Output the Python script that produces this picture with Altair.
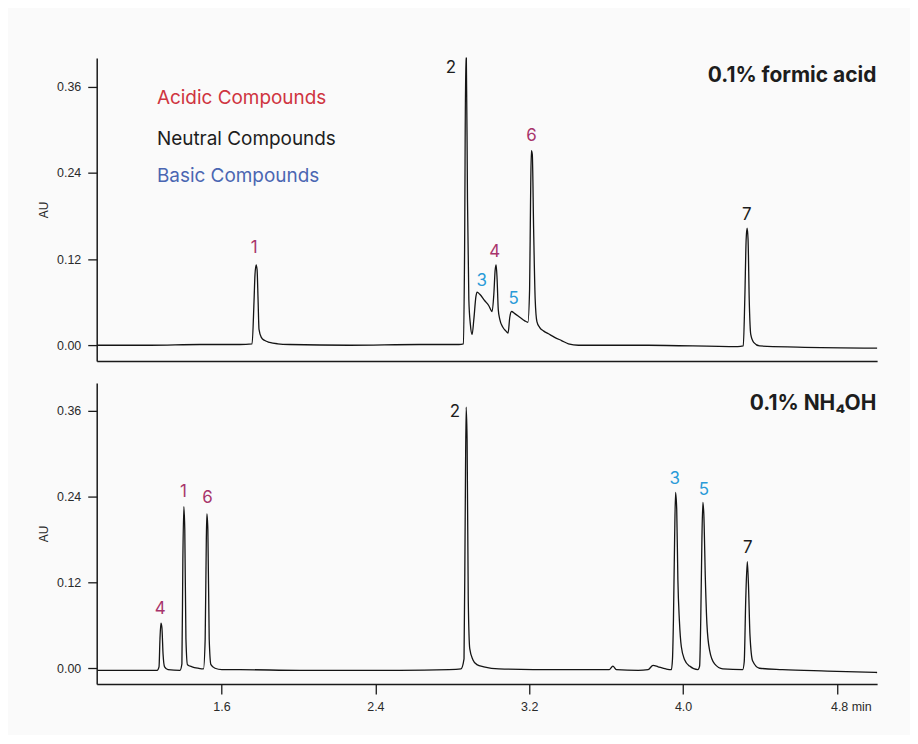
import altair as alt
import pandas as pd

# ---- Chromatogram traces (time in min, absorbance in AU) ----
top_time = [0.955, 1.229, 1.488, 1.695, 1.759, 1.769, 1.774, 1.780, 1.785, 1.790,
            1.795, 1.807, 1.825, 1.850, 1.892, 1.954, 2.265, 2.627, 2.834, 2.858,
            2.864, 2.870, 2.873, 2.879, 2.886, 2.894, 2.903, 2.912, 2.923, 2.929,
            2.943, 2.969, 2.990, 3.007, 3.016, 3.023, 3.028, 3.033, 3.039, 3.047,
            3.063, 3.078, 3.090, 3.099, 3.108, 3.125, 3.151, 3.177, 3.193, 3.202,
            3.207, 3.211, 3.216, 3.223, 3.231, 3.240, 3.254, 3.274, 3.300, 3.332,
            3.368, 3.404, 3.456, 3.818, 4.284, 4.313, 4.321, 4.328, 4.333, 4.338,
            4.344, 4.352, 4.367, 4.398, 4.595, 5.009]
top_au = [0.000, 0.000, 0.001, 0.001, 0.002, 0.061, 0.098, 0.112, 0.105, 0.064,
          0.022, 0.011, 0.0065, 0.004, 0.002, 0.001, 0.000, 0.001, 0.001, 0.002,
          0.133, 0.400, 0.400, 0.203, 0.064, 0.029, 0.015, 0.036, 0.068, 0.074,
          0.071, 0.062, 0.055, 0.047, 0.071, 0.105, 0.112, 0.092, 0.050, 0.036,
          0.025, 0.020, 0.017, 0.039, 0.047, 0.044, 0.039, 0.034, 0.032, 0.078,
          0.203, 0.271, 0.266, 0.161, 0.064, 0.033, 0.025, 0.020, 0.016, 0.011,
          0.0065, 0.002, 0.000, 0.000, -0.002, -0.001, 0.064, 0.147, 0.163, 0.147,
          0.064, 0.015, 0.004, -0.001, -0.0025, -0.004]

bottom_time = [0.955, 1.177, 1.265, 1.275, 1.280, 1.285, 1.290, 1.296, 1.304, 1.322,
               1.384, 1.394, 1.399, 1.404, 1.409, 1.415, 1.423, 1.447, 1.478, 1.506,
               1.515, 1.521, 1.524, 1.529, 1.536, 1.545, 1.566, 1.602, 1.695, 2.006,
               2.524, 2.783, 2.845, 2.861, 2.867, 2.872, 2.877, 2.883, 2.891, 2.907,
               2.928, 2.964, 3.042, 3.352, 3.559, 3.616, 3.635, 3.653, 3.767, 3.818,
               3.844, 3.870, 3.911, 3.939, 3.945, 3.950, 3.956, 3.961, 3.967, 3.973,
               3.981, 3.991, 4.008, 4.034, 4.077, 4.086, 4.092, 4.098, 4.103, 4.108,
               4.116, 4.124, 4.138, 4.164, 4.207, 4.310, 4.318, 4.326, 4.334, 4.340,
               4.348, 4.362, 4.397, 4.517, 4.750, 5.009]
bottom_au = [-0.003, -0.003, -0.003, 0.002, 0.041, 0.063, 0.057, 0.020, 0.002, -0.002,
             -0.003, 0.006, 0.152, 0.226, 0.194, 0.041, 0.005, 0.002, 0.000, -0.001,
             0.041, 0.180, 0.216, 0.194, 0.041, 0.005, 0.000, -0.002, -0.002, -0.003,
             -0.003, -0.002, -0.001, 0.013, 0.208, 0.365, 0.319, 0.097, 0.027, 0.012,
             0.005, 0.002, -0.001, -0.002, -0.002, -0.002, 0.003, -0.002, -0.003, -0.002,
             0.004, 0.002, -0.001, -0.002, 0.013, 0.069, 0.180, 0.246, 0.222, 0.124,
             0.066, 0.030, 0.012, 0.003, -0.002, 0.003, 0.069, 0.180, 0.232, 0.215,
             0.124, 0.062, 0.025, 0.006, -0.001, -0.002, 0.009, 0.097, 0.149, 0.117,
             0.046, 0.010, 0.000, -0.002, -0.004, -0.006]

# ---- Peak labels ----
top_peak_text = ["1", "2", "3", "4", "5", "6", "7"]
top_peak_time = [1.770, 2.793, 2.953, 3.021, 3.119, 3.212, 4.331]
top_peak_au = [0.135, 0.386, 0.090, 0.130, 0.065, 0.291, 0.182]
top_peak_class = ["acidic", "neutral", "basic", "acidic", "basic", "acidic", "neutral"]

bottom_peak_text = ["4", "1", "6", "2", "3", "5", "7"]
bottom_peak_time = [1.281, 1.402, 1.527, 2.814, 3.957, 4.108, 4.336]
bottom_peak_au = [0.083, 0.246, 0.238, 0.358, 0.265, 0.249, 0.168]
bottom_peak_class = ["acidic", "acidic", "acidic", "neutral", "basic", "basic", "neutral"]

# ---- Legend-like annotation and panel titles ----
legend_text = ["Acidic Compounds", "Neutral Compounds", "Basic Compounds"]
legend_time = [1.264, 1.264, 1.264]
legend_au = [0.344, 0.287, 0.236]
legend_class = ["acidic legend", "neutral", "basic legend"]

top_title = ["0.1% formic acid"]
bottom_title = ["0.1% NH\u2084OH"]
title_time = [5.005]
top_title_au = [0.375]
bottom_title_au = [0.369]

x_ticks = [1.6, 2.4, 3.2, 4.0, 4.8]
y_ticks = [0.0, 0.12, 0.24, 0.36]

class_domain = ["acidic", "neutral", "basic", "acidic legend", "basic legend"]
class_range = ["#a8346b", "#1d1d1d", "#2a9bd8", "#cf3440", "#4a66b2"]

X_DOMAIN = [0.951, 5.009]
AXIS_FONT = "Liberation Sans"
TEXT_FONT = "Inter"
W = 783

y_axis = alt.Axis(values=y_ticks, format=".2f", title="AU", grid=False,
                  tickSize=9, labelPadding=7, titlePadding=6,
                  labelFont=AXIS_FONT, labelFontSize=12.5, labelColor="#2a2a2a",
                  titleFont=AXIS_FONT, titleFontSize=12, titleFontWeight="normal",
                  titleColor="#2a2a2a", domainColor="#1a1a1a", tickColor="#1a1a1a",
                  domainWidth=1.5, tickWidth=1.3)

top_x_axis = alt.Axis(title=None, labels=False, ticks=False, grid=False,
                      domainColor="#1a1a1a", domainWidth=1.5)

bottom_x_axis = alt.Axis(values=x_ticks, format=".1f", title=None, grid=False,
                         labelExpr="datum.value > 4.7 ? '4.8 min' : datum.label",
                         labelOffset={"condition": {"test": "datum.value > 4.7", "value": 14}, "value": 0},
                         tickSize=10, labelPadding=7,
                         labelFont=AXIS_FONT, labelFontSize=12.5, labelColor="#2a2a2a",
                         domainColor="#1a1a1a", tickColor="#1a1a1a",
                         domainWidth=1.5, tickWidth=1.3)

color_enc = alt.Color("cls:N", scale=alt.Scale(domain=class_domain, range=class_range), legend=None)


def panel(times, aus, pk_text, pk_time, pk_au, pk_cls, title, title_au, ydom, xaxis, height, legend=False):
    trace = pd.DataFrame({"t": times, "au": aus})
    peaks = pd.DataFrame({"t": pk_time, "au": pk_au, "label": pk_text, "cls": pk_cls})
    ttl = pd.DataFrame({"t": title_time, "au": title_au, "label": title})

    xe = alt.X("t:Q", scale=alt.Scale(domain=X_DOMAIN, nice=False, zero=False), axis=xaxis)
    ye = alt.Y("au:Q", scale=alt.Scale(domain=ydom, nice=False, zero=False), axis=y_axis)

    line = alt.Chart(trace).mark_line(color="#141414", strokeWidth=1.3, interpolate="monotone").encode(
        x=xe, y=ye)
    labels = alt.Chart(peaks).mark_text(font=TEXT_FONT, fontSize=17, baseline="middle", align="center").encode(
        x=xe, y=ye, text="label:N", color=color_enc)
    title_mark = alt.Chart(ttl).mark_text(font=TEXT_FONT, fontSize=21, fontWeight="bold", align="right",
                                          baseline="middle", color="#1d1d1d").encode(
        x=xe, y=ye, text="label:N")
    layers = [line, labels, title_mark]
    if legend:
        leg = pd.DataFrame({"t": legend_time, "au": legend_au, "label": legend_text, "cls": legend_class})
        layers.append(alt.Chart(leg).mark_text(font=TEXT_FONT, fontSize=19, align="left", baseline="middle").encode(
            x=xe, y=ye, text="label:N", color=color_enc))
    return alt.layer(*layers).properties(width=W, height=height)


top = panel(top_time, top_au, top_peak_text, top_peak_time, top_peak_au, top_peak_class,
            top_title, top_title_au, [-0.022, 0.400], top_x_axis, 304, legend=True)
bottom = panel(bottom_time, bottom_au, bottom_peak_text, bottom_peak_time, bottom_peak_au, bottom_peak_class,
               bottom_title, bottom_title_au, [-0.022, 0.399], bottom_x_axis, 302)

chart = alt.vconcat(top, bottom, spacing=22).properties(
    background="#fafafa",
    padding={"left": 29, "top": 46, "right": 30, "bottom": 20},
).configure_view(strokeWidth=0)

chart.save("out.html", embed_options={"renderer": "svg", "actions": False})
